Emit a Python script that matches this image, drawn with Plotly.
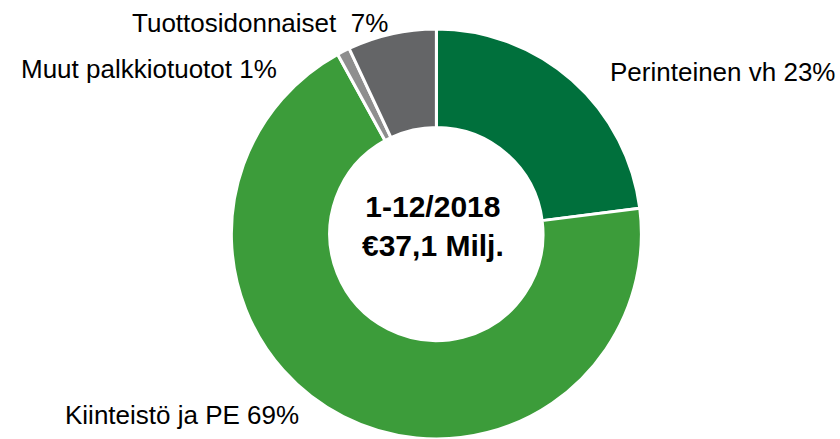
import plotly.graph_objects as go

# Data
labels = ["Perinteinen vh", "Kiinteistö ja PE", "Muut palkkiotuotot", "Tuottosidonnaiset"]
shares = [23, 69, 1, 7]
colors = ["#00703C", "#3C9C3A", "#8E8E8E", "#646567"]
label_text = ["Perinteinen vh 23%", "Kiinteistö ja PE 69%",
              "Muut palkkiotuotot 1%", "Tuottosidonnaiset  7%"]
center_lines = ["1-12/2018", "€37,1 Milj."]

FONT = "Liberation Sans, Arial, sans-serif"

fig = go.Figure(go.Pie(
    labels=labels,
    values=shares,
    hole=0.52,
    sort=False,
    direction="clockwise",
    rotation=0,
    marker=dict(colors=colors, line=dict(color="white", width=3)),
    textinfo="none",
    domain=dict(x=[0.275, 0.764], y=[0.0, 0.934]),
    hoverinfo="label+percent",
))

# label placement (paper coords)
label_pos = [
    dict(x=0.996, y=0.835, xanchor="right"),
    dict(x=0.075, y=0.055, xanchor="left"),
    dict(x=0.332, y=0.843, xanchor="right"),
    dict(x=0.464, y=0.947, xanchor="right"),
]
for txt, pos in zip(label_text, label_pos):
    fig.add_annotation(text=txt, xref="paper", yref="paper", showarrow=False,
                       yanchor="middle", font=dict(family=FONT, size=26, color="black"),
                       **pos)

fig.add_annotation(text="<b>" + "<br>".join(center_lines) + "</b>",
                   xref="paper", yref="paper", x=0.515, y=0.485,
                   showarrow=False, align="center",
                   font=dict(family=FONT, size=30, color="black"))

fig.update_layout(
    width=840, height=439,
    margin=dict(l=0, r=0, t=0, b=0),
    paper_bgcolor="white",
    plot_bgcolor="white",
    showlegend=False,
)

fig.write_html("out.html", config={"displayModeBar": False},
               post_script="document.body.style.margin='0px';")
